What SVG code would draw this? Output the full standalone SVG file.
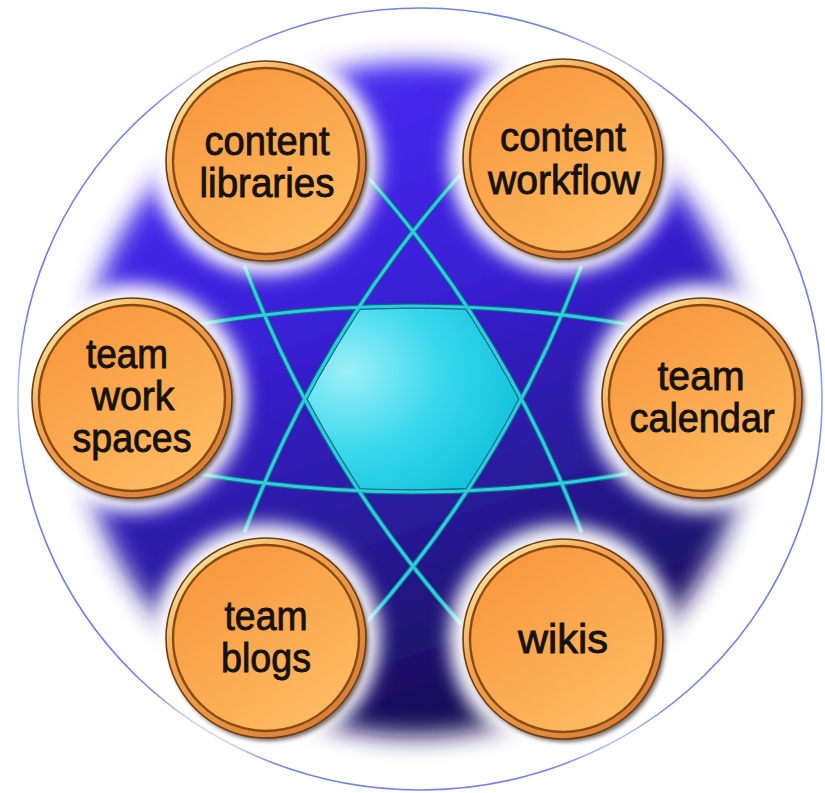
<svg xmlns="http://www.w3.org/2000/svg" width="825" height="793" viewBox="0 0 825 793">
<defs>
<style>
.lbl { font-family: "Liberation Sans", Arial, sans-serif; font-size: 41px; fill: #151210; stroke: #151210; stroke-width: 0.9px; text-anchor: middle; }
.ln-s { fill: none; stroke: #0b6a84; stroke-width: 5.5; stroke-linecap: round; }
.ln { fill: none; stroke: #2fcbe0; stroke-width: 3.2; stroke-linecap: round; }
</style>
<linearGradient id="blueGrad" x1="0.3" y1="0" x2="0.65" y2="1">
<stop offset="0" stop-color="#4a2cf2"/>
<stop offset="0.35" stop-color="#3a20d8"/>
<stop offset="0.65" stop-color="#2a1b9c"/>
<stop offset="1" stop-color="#120a48"/>
</linearGradient>
<filter id="blurBig" x="-20%" y="-20%" width="140%" height="140%"><feGaussianBlur stdDeviation="12"/></filter>
<filter id="glow" x="-40%" y="-40%" width="180%" height="180%"><feGaussianBlur stdDeviation="9"/></filter>
<filter id="shadow" x="-20%" y="-20%" width="140%" height="140%"><feGaussianBlur stdDeviation="2"/></filter>
<linearGradient id="rim" x1="0.15" y1="0.1" x2="0.85" y2="0.9">
<stop offset="0" stop-color="#fbe29a"/>
<stop offset="0.3" stop-color="#f3a550"/>
<stop offset="1" stop-color="#d97f34"/>
</linearGradient>
<linearGradient id="face" x1="0.2" y1="0.1" x2="0.8" y2="0.95">
<stop offset="0" stop-color="#f8993f"/>
<stop offset="1" stop-color="#fdbb62"/>
</linearGradient>
<radialGradient id="hexGrad" cx="0.2" cy="0.35" r="0.95">
<stop offset="0" stop-color="#9cf0f8"/>
<stop offset="0.45" stop-color="#3ad8ec"/>
<stop offset="1" stop-color="#06bcd8"/>
</radialGradient>
<g id="nodeBase">
<circle r="114" fill="#ffffff" filter="url(#glow)"/>
<circle cx="2.5" cy="3" r="100" fill="#3b2a22" opacity="0.7" filter="url(#shadow)"/>
<circle r="100" fill="url(#rim)" stroke="#6e3c12" stroke-width="1.6"/>
<circle r="93" fill="url(#face)" stroke="#8a4a16" stroke-width="2.4"/>
</g>
</defs>

<rect width="825" height="793" fill="#ffffff"/>
<ellipse cx="420" cy="399" rx="402" ry="391" fill="#ffffff" stroke="#6f80ef" stroke-width="1.6"/>
<circle cx="415" cy="399" r="337" fill="url(#blueGrad)" filter="url(#blurBig)"/>

<g id="hub">
<polygon points="305,399 358,307 468,307 521,399 468,491 358,491" fill="url(#hexGrad)" stroke="#109cb4" stroke-width="3" stroke-opacity="0.5"/>
</g>

<g id="connectors">
<path class="ln-s" d="M245,267 Q320,465 460,623"/>
<path class="ln-s" d="M581,267 Q506,465 366,623"/>
<path class="ln-s" d="M245,531 Q320,333 460,175"/>
<path class="ln-s" d="M581,531 Q506,333 366,175"/>
<path class="ln-s" d="M200,324 Q413,288 626,324"/>
<path class="ln-s" d="M200,474 Q413,510 626,474"/>
<path class="ln" d="M245,267 Q320,465 460,623"/>
<path class="ln" d="M581,267 Q506,465 366,623"/>
<path class="ln" d="M245,531 Q320,333 460,175"/>
<path class="ln" d="M581,531 Q506,333 366,175"/>
<path class="ln" d="M200,324 Q413,288 626,324"/>
<path class="ln" d="M200,474 Q413,510 626,474"/>
</g>

<g id="content-libraries">
<use href="#nodeBase" x="266" y="161"/>
<text class="lbl" x="267" y="155" textLength="125" lengthAdjust="spacingAndGlyphs">content</text>
<text class="lbl" x="267" y="197" textLength="135" lengthAdjust="spacingAndGlyphs">libraries</text>
</g>

<g id="content-workflow">
<use href="#nodeBase" x="563" y="159"/>
<text class="lbl" x="563" y="151" textLength="126" lengthAdjust="spacingAndGlyphs">content</text>
<text class="lbl" x="564" y="194" textLength="152" lengthAdjust="spacingAndGlyphs">workflow</text>
</g>

<g id="team-work-spaces">
<use href="#nodeBase" x="132" y="398"/>
<text class="lbl" x="127" y="368" textLength="82" lengthAdjust="spacingAndGlyphs">team</text>
<text class="lbl" x="133" y="410" textLength="83" lengthAdjust="spacingAndGlyphs">work</text>
<text class="lbl" x="132" y="452" textLength="119" lengthAdjust="spacingAndGlyphs">spaces</text>
</g>

<g id="team-calendar">
<use href="#nodeBase" x="702" y="398"/>
<text class="lbl" x="701" y="390" textLength="87" lengthAdjust="spacingAndGlyphs">team</text>
<text class="lbl" x="702" y="432" textLength="145" lengthAdjust="spacingAndGlyphs">calendar</text>
</g>

<g id="team-blogs">
<use href="#nodeBase" x="266" y="638"/>
<text class="lbl" x="266" y="630" textLength="83" lengthAdjust="spacingAndGlyphs">team</text>
<text class="lbl" x="266" y="672" textLength="90" lengthAdjust="spacingAndGlyphs">blogs</text>
</g>

<g id="wikis">
<use href="#nodeBase" x="563" y="639"/>
<text class="lbl" x="563" y="653" textLength="90" lengthAdjust="spacingAndGlyphs">wikis</text>
</g>
</svg>
